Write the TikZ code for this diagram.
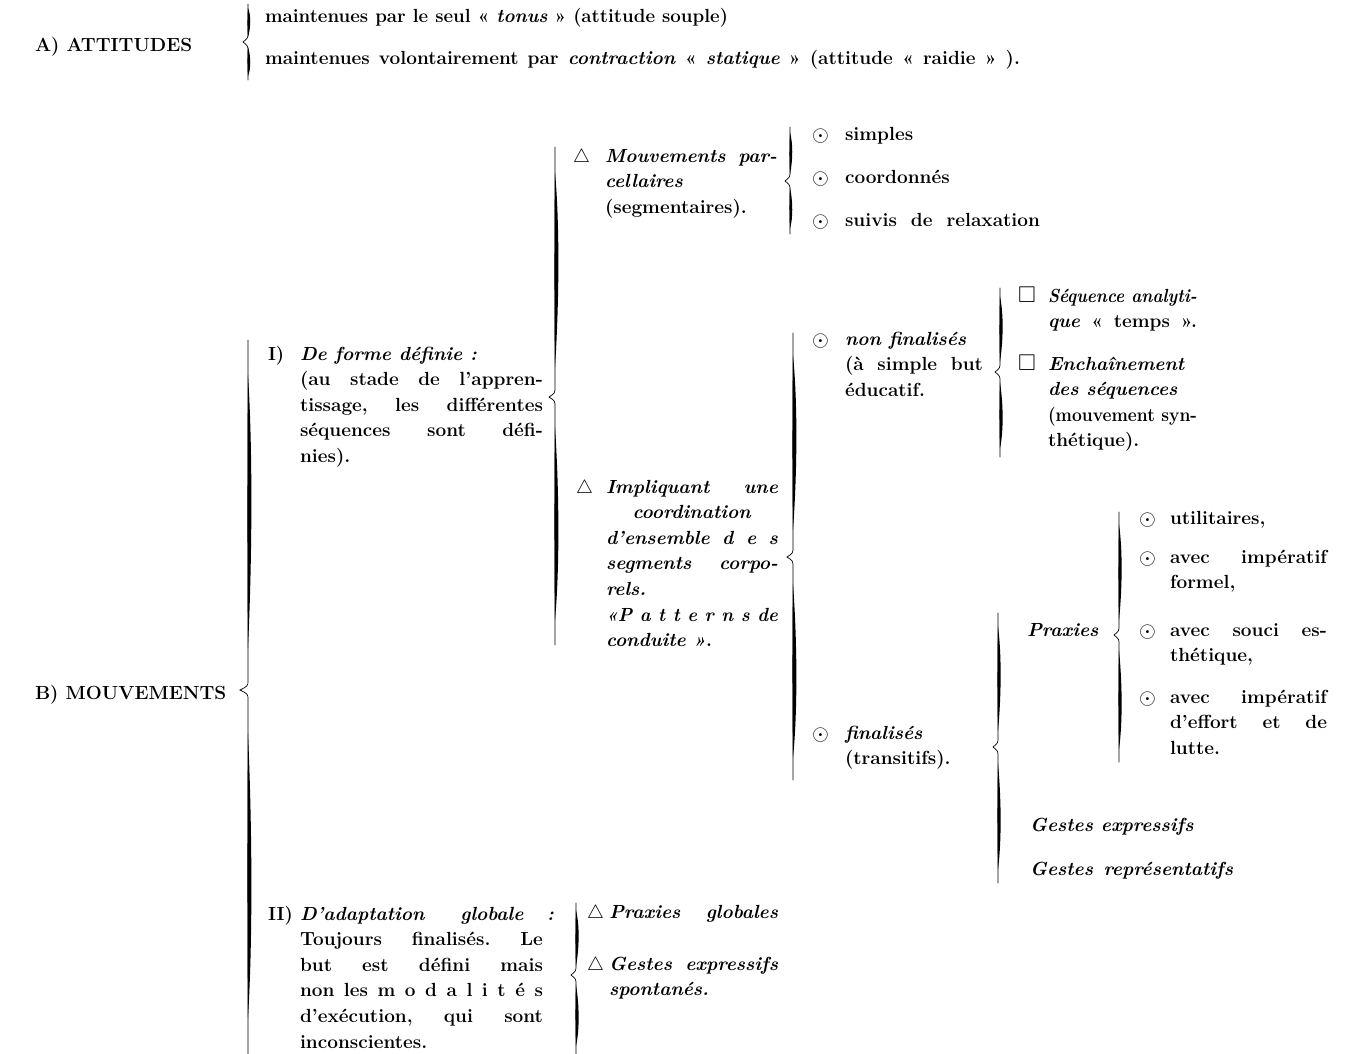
\documentclass[tikz,border=0pt]{standalone}
\usepackage{amssymb}
\usepackage{graphicx}
\newsavebox\jlbox
\newcommand\fs{\fontsize{19}{25.6}\selectfont\bfseries\frenchspacing}
\newcommand\tri{\scalebox{1.1}{$\bigtriangleup$}}
\newcommand\cdt{\raisebox{-1.2pt}{\scalebox{1.25}{$\odot$}}}
\newcommand\sq{\raisebox{-0.5pt}{\scalebox{1.2}{$\square$}}}
\newcommand\jl[2]{\sbox\jlbox{#2}\ifdim\wd\jlbox>#1pt\relax\hbox{\resizebox{#1pt}{\height}{\usebox\jlbox}}\else\hbox to #1pt{#2}\fi}
\newcommand\Ln[1]{\hbox{#1}}
\newcommand\stk[1]{\vtop{\fs #1}}
\newcommand\brc[6]{%
 \draw[brl] (#1,#2) -- (#1,{#3-10}) .. controls (#1,{#3-4}) .. ({#1-#5},#3) .. controls (#1,{#3+4}) .. (#1,{#3+10}) -- (#1,#4);
 \fill ({#1},{#2+0.1*(#3-#2)}) .. controls ({#1-0.7},{#2+0.35*(#3-#2)}) and ({#1-0.7},{#2+0.65*(#3-#2)}) .. (#1,{#3-0.12*(#3-#2)}) .. controls ({#1+#6},{#2+0.6*(#3-#2)}) and ({#1+#6},{#2+0.3*(#3-#2)}) .. ({#1},{#2+0.1*(#3-#2)}) -- cycle;
 \fill ({#1},{#3+0.12*(#4-#3)}) .. controls ({#1-0.7},{#3+0.35*(#4-#3)}) and ({#1-0.7},{#3+0.65*(#4-#3)}) .. (#1,{#4-0.1*(#4-#3)}) .. controls ({#1+#6},{#3+0.7*(#4-#3)}) and ({#1+#6},{#3+0.4*(#4-#3)}) .. ({#1},{#3+0.12*(#4-#3)}) -- cycle;
}
\begin{document}
\begin{tikzpicture}[x=1pt,y=-1pt,
 txt/.style={anchor=base west,inner sep=0pt,outer sep=0pt,font=\fs},
 sym/.style={anchor=base west,inner sep=0pt,outer sep=0pt,font=\fs},
 brl/.style={line width=0.7pt,line cap=round}]
\fill[white] (0,0) rectangle (1359,1054);
\useasboundingbox (0,0) rectangle (1359,1054);

% A) ATTITUDES
\node[txt] (a0) at (35,52) {A) ATTITUDES};
\node[txt] (a1) at (265,23) {\jl{463}{maintenues par le seul « \textit{tonus} » (attitude souple)}};
\node[txt] (a2) at (265,65) {\jl{755}{maintenues volontairement par \textit{contraction} « \textit{statique} » (attitude « raidie » ).}};
\brc{248}{4}{42}{80}{5}{3}

% B) MOUVEMENTS
\node[txt] (b0) at (35,699) {B) MOUVEMENTS};
\brc{248}{340}{690}{1054}{8}{4.5}

% I) De forme definie
\node[txt] (i0) at (268,360) {I)};
\node[txt] (i1) at (300,360) {\stk{%
\Ln{\textit{De forme définie :}}%
\jl{243}{(au stade de l'appren-}%
\jl{243}{tissage, les différentes}%
\jl{243}{séquences sont défi-}%
\Ln{nies).}}};
\brc{555}{147}{397}{645}{6}{4.5}

% Mouvements parcellaires
\node[sym] (mp0) at (573,162) {\tri};
\node[txt] (mp1) at (605,162) {\stk{%
\jl{172}{\textit{Mouvements par-}}%
\Ln{\textit{cellaires}}%
\Ln{(segmentaires).}}};
\brc{790}{127}{181}{234}{5}{3}
\node[sym] (s1) at (812,140) {\cdt};
\node[txt] (t1) at (845,140) {simples};
\node[sym] (s2) at (812,183) {\cdt};
\node[txt] (t2) at (845,183) {coordonnés};
\node[sym] (s3) at (812,226) {\cdt};
\node[txt] (t3) at (845,226) {\jl{195}{suivis de relaxation}};

% Impliquant
\node[sym] (im0) at (576,493) {\tri};
\node[txt] (im1) at (606,493) {\stk{%
\jl{172}{\textit{Impliquant une}}%
\jl{172}{\hfil\textit{coordination}\hfil}%
\jl{172}{\textit{d'ensemble d e s}}%
\jl{172}{\textit{segments corpo-}}%
\Ln{\textit{rels.}}%
\jl{172}{\textit{«P a t t e r n s de}}%
\Ln{\textit{conduite »}.}}};
\brc{793}{333}{557}{780}{6}{4.5}

% non finalises
\node[sym] (nf0) at (812,345) {\cdt};
\node[txt] (nf1) at (845,345) {\stk{%
\Ln{\textit{non finalisés}}%
\jl{138}{(à simple but}%
\Ln{éducatif.}}};
\brc{1000}{288}{372}{457}{5}{3.5}
\node[sym] (q0) at (1018,302) {\sq};
\node[txt] (q1) at (1048,302) {\stk{%
\jl{149}{\textit{Séquence analyti-}}%
\jl{149}{\textit{que} « temps ».}}};
\node[sym] (e0) at (1018,370) {\sq};
\node[txt] (e1) at (1048,370) {\stk{%
\Ln{\textit{Enchaînement}}%
\Ln{\textit{des séquences}}%
\jl{149}{(mouvement syn-}%
\Ln{thétique).}}};

% finalises
\node[sym] (f0) at (812,739) {\cdt};
\node[txt] (f1) at (845,739) {\stk{%
\Ln{\textit{finalisés}}%
\Ln{(transitifs).}}};
\brc{998}{613}{747}{883}{5}{3.5}
\node[txt] (px) at (1027,636) {\textit{Praxies}};
\node[txt] (ge) at (1030,831) {\textit{Gestes expressifs}};
\node[txt] (gr) at (1030,875) {\jl{203}{\textit{Gestes représentatifs}}};
\brc{1119}{512}{635}{762}{5}{3.5}
\node[sym] (p1s) at (1139,524) {\cdt};
\node[txt] (p1) at (1170,524) {utilitaires,};
\node[sym] (p2s) at (1139,563) {\cdt};
\node[txt] (p2) at (1170,563) {\stk{\jl{157}{avec impératif}\Ln{formel,}}};
\node[sym] (p3s) at (1139,636) {\cdt};
\node[txt] (p3) at (1170,636) {\stk{\jl{157}{avec souci es-}\Ln{thétique,}}};
\node[sym] (p4s) at (1139,703) {\cdt};
\node[txt] (p4) at (1170,703) {\stk{\jl{157}{avec impératif}\jl{157}{d'effort et de}\Ln{lutte.}}};

% II) D'adaptation globale
\node[txt] (ii0) at (268,920) {II)};
\node[txt] (ii1) at (300,920) {\stk{%
\jl{254}{\textit{D'adaptation\hskip 8pt plus 1fil globale\hskip 7pt plus 0.6fil:}}%
\jl{243}{Toujours finalisés. Le}%
\jl{243}{but est défini mais}%
\jl{243}{non les m o d a l i t é s}%
\jl{243}{d'exécution, qui sont}%
\Ln{inconscientes.}}};
\brc{576}{903}{975}{1054}{5}{3.5}
\node[sym] (g0) at (587,918) {\tri};
\node[txt] (g1) at (609,918) {\jl{169}{\textit{Praxies globales}}};
\node[sym] (h0) at (587,970) {\tri};
\node[txt] (h1) at (609,970) {\stk{%
\jl{169}{\textit{Gestes expressifs}}%
\Ln{\textit{spontanés.}}}};
\end{tikzpicture}
\end{document}
